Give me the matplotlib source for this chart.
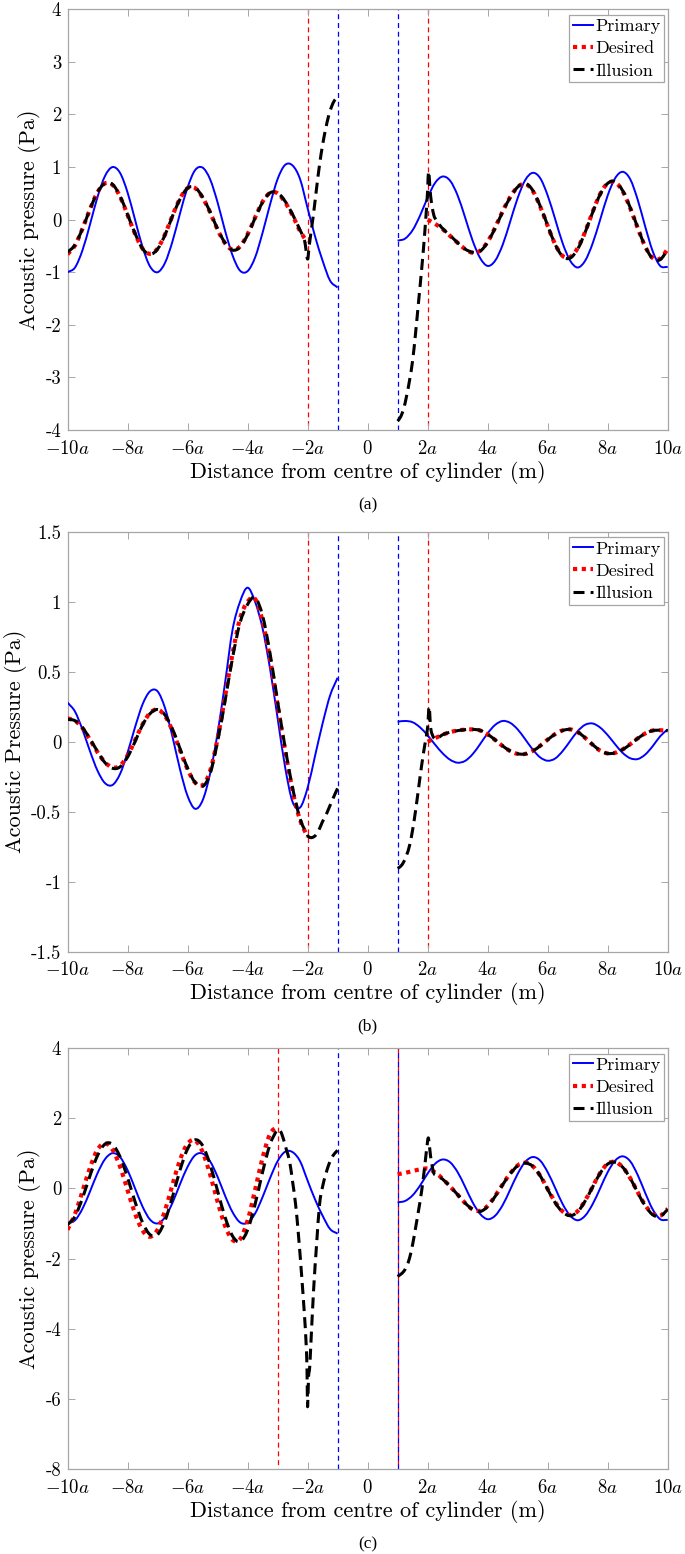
import numpy as np
import matplotlib
matplotlib.use("Agg")
import matplotlib.pyplot as plt
from matplotlib.path import Path
from matplotlib.patches import PathPatch
from matplotlib.lines import Line2D

plt.rcParams['font.family'] = ['cmr10', 'DejaVu Serif']
plt.rcParams['mathtext.fontset'] = 'cm'
plt.rcParams['axes.unicode_minus'] = False
plt.rcParams['axes.formatter.use_mathtext'] = True

# ---------------- sampling grids (x in units of a) ----------------
x_l_full = np.linspace(-10, -1, 37)
x_r_full = np.linspace(1, 10, 37)
x_l_to_m2 = np.linspace(-10, -2, 33)
x_r_from2 = np.linspace(2, 10, 33)
x_l_to_m225 = np.linspace(-10, -2.25, 32)
x_l_to_m3 = np.linspace(-10, -3, 29)
x_r_from25 = np.linspace(2.5, 10, 31)
x_r_from275 = np.linspace(2.75, 10, 30)

# ---------------- primary field (panels a and c) ----------------
primary_ac_left = [-1.0, -0.91, -0.58, -0.09, 0.43, 0.83, 1.0, 0.89, 0.52, 0.0, -0.52, -0.89, -1.0,
                   -0.82, -0.41, 0.12, 0.61, 0.94, 0.99, 0.77, 0.33, -0.21, -0.68, -0.97, -0.98, -0.72,
                   -0.25, 0.29, 0.77, 1.04, 1.03, 0.77, 0.22, -0.32, -0.78, -1.16, -1.29]
primary_ac_right = [-0.40, -0.36, -0.20, 0.08, 0.42, 0.70, 0.82, 0.74, 0.46, 0.04, -0.40, -0.73, -0.88,
                    -0.78, -0.48, -0.04, 0.41, 0.75, 0.89, 0.79, 0.46, 0.01, -0.45, -0.78, -0.91, -0.78,
                    -0.45, 0.0, 0.46, 0.79, 0.91, 0.77, 0.38, -0.13, -0.60, -0.88, -0.90]

# ---------------- panel (a) ----------------
desired_a_left = [-0.66, -0.49, -0.17, 0.20, 0.52, 0.69, 0.66, 0.44, 0.09, -0.27, -0.55, -0.65, -0.55,
                  -0.28, 0.08, 0.40, 0.60, 0.60, 0.42, 0.14, -0.19, -0.45, -0.57, -0.51, -0.28, 0.04,
                  0.34, 0.51, 0.50, 0.33, 0.08, -0.22, -0.43]
desired_a_right = [0.0, -0.08, -0.18, -0.31, -0.44, -0.56, -0.63, -0.59, -0.42, -0.15, 0.16, 0.43, 0.62,
                   0.68, 0.55, 0.25, -0.12, -0.47, -0.69, -0.71, -0.54, -0.23, 0.15, 0.49, 0.69, 0.71,
                   0.54, 0.22, -0.16, -0.51, -0.73, -0.74, -0.56]
illusion_a_left = [-0.62, -0.48, -0.17, 0.20, 0.52, 0.69, 0.67, 0.45, 0.10, -0.26, -0.55, -0.66, -0.56,
                   -0.29, 0.07, 0.39, 0.60, 0.61, 0.43, 0.15, -0.18, -0.44, -0.58, -0.52, -0.29, 0.03,
                   0.33, 0.51, 0.51, 0.35, 0.10, -0.20]
illusion_a_tail_x = [-2.1, -2.0, -1.95, -1.9, -1.8, -1.7, -1.6, -1.5, -1.4, -1.3, -1.2, -1.1, -1.0]
illusion_a_tail_y = [-0.40, -0.75, -0.52, -0.30, 0.12, 0.60, 1.05, 1.42, 1.72, 1.97, 2.15, 2.27, 2.33]
illusion_a_head_x = [1.0, 1.1, 1.2, 1.3, 1.4, 1.5, 1.6, 1.7, 1.8, 1.9, 2.0, 2.03, 2.1, 2.2, 2.3]
illusion_a_head_y = [-3.83, -3.75, -3.6, -3.35, -3.05, -2.68, -2.15, -1.55, -0.95, -0.28, 0.55, 0.92,
                     0.45, 0.10, -0.02]
illusion_a_right = [-0.17, -0.30, -0.44, -0.56, -0.62, -0.60, -0.43, -0.16, 0.15, 0.42, 0.62, 0.69, 0.56,
                    0.26, -0.11, -0.47, -0.70, -0.73, -0.56, -0.24, 0.14, 0.48, 0.69, 0.72, 0.55, 0.23,
                    -0.15, -0.51, -0.74, -0.76, -0.57]

# ---------------- panel (b) ----------------
primary_b_left = [0.28, 0.215, 0.086, -0.068, -0.207, -0.296, -0.309, -0.231, -0.079, 0.103, 0.266, 0.36,
                  0.36, 0.24, 0.034, -0.198, -0.387, -0.479, -0.42, -0.23, 0.06, 0.42, 0.80, 1.0, 1.10,
                  1.0, 0.81, 0.52, 0.17, -0.18, -0.43, -0.47, -0.33, -0.10, 0.13, 0.33, 0.457]
primary_b_right = [0.143, 0.148, 0.139, 0.102, 0.045, -0.021, -0.083, -0.129, -0.15, -0.137, -0.089,
                   -0.017, 0.06, 0.12, 0.148, 0.135, 0.088, 0.018, -0.055, -0.112, -0.136, -0.12, -0.067,
                   0.005, 0.075, 0.121, 0.13, 0.101, 0.047, -0.019, -0.08, -0.118, -0.124, -0.092, -0.032,
                   0.039, 0.088]
desired_b_left = [0.167, 0.15, 0.097, 0.014, -0.075, -0.147, -0.184, -0.171, -0.099, 0.010, 0.123, 0.205,
                  0.23, 0.184, 0.077, -0.062, -0.197, -0.291, -0.31, -0.21, 0.02, 0.32, 0.63, 0.88, 1.0,
                  1.02, 0.86, 0.59, 0.26, -0.06, -0.35, -0.56, -0.68]
desired_b_right = [0.0, 0.025, 0.05, 0.068, 0.08, 0.086, 0.088, 0.08, 0.052, 0.012, -0.031, -0.067, -0.087,
                   -0.087, -0.066, -0.029, 0.015, 0.055, 0.081, 0.088, 0.068, 0.027, -0.022, -0.064, -0.084,
                   -0.079, -0.055, -0.018, 0.024, 0.059, 0.080, 0.082, 0.077]
illusion_b_left = [0.16, 0.15, 0.10, 0.02, -0.07, -0.15, -0.19, -0.18, -0.11, 0.0, 0.12, 0.20, 0.23, 0.19,
                   0.09, -0.05, -0.19, -0.29, -0.32, -0.23, 0.0, 0.29, 0.60, 0.85, 0.98, 1.03, 0.90, 0.63,
                   0.29, -0.04, -0.33, -0.55]
illusion_b_tail_x = [-2.0, -1.9, -1.8, -1.7, -1.6, -1.5, -1.4, -1.3, -1.2, -1.1, -1.0]
illusion_b_tail_y = [-0.67, -0.685, -0.68, -0.66, -0.62, -0.57, -0.53, -0.48, -0.43, -0.38, -0.333]
illusion_b_head_x = [1.0, 1.1, 1.2, 1.3, 1.4, 1.5, 1.6, 1.7, 1.8, 1.9, 2.0, 2.05, 2.1, 2.2, 2.3, 2.5]
illusion_b_head_y = [-0.905, -0.89, -0.86, -0.81, -0.74, -0.63, -0.49, -0.33, -0.17, -0.03, 0.10, 0.25,
                     0.10, 0.03, 0.02, 0.05]
illusion_b_right = [0.068, 0.079, 0.086, 0.088, 0.081, 0.053, 0.013, -0.030, -0.066, -0.086, -0.088,
                    -0.067, -0.030, 0.014, 0.054, 0.080, 0.088, 0.069, 0.028, -0.021, -0.063, -0.084,
                    -0.080, -0.056, -0.019, 0.023, 0.058, 0.079, 0.082, 0.078]

# ---------------- panel (c) ----------------
desired_c_left = [-1.18, -0.73, -0.08, 0.59, 1.10, 1.28, 1.10, 0.62, -0.05, -0.72, -1.20, -1.38, -1.18,
                  -0.63, 0.11, 0.81, 1.27, 1.36, 1.04, 0.40, -0.38, -1.07, -1.47, -1.45, -0.92, -0.05,
                  0.87, 1.55, 1.76]
desired_c_right = [0.40, 0.44, 0.49, 0.54, 0.56, 0.45, 0.27, 0.05, -0.18, -0.42, -0.60, -0.64, -0.50,
                   -0.22, 0.11, 0.42, 0.65, 0.73, 0.63, 0.36, -0.02, -0.39, -0.66, -0.76, -0.65, -0.35,
                   0.05, 0.44, 0.70, 0.75, 0.60, 0.29, -0.11, -0.48, -0.73, -0.78, -0.58]
illusion_c_left = [-1.04, -0.80, -0.28, 0.36, 0.93, 1.26, 1.25, 0.90, 0.31, -0.38, -0.97, -1.32, -1.32,
                   -0.92, -0.24, 0.52, 1.12, 1.38, 1.22, 0.68, -0.07, -0.82, -1.36, -1.52, -1.19, -0.46,
                   0.46, 1.25, 1.67]
illusion_c_tail_x = [-2.9, -2.8, -2.7, -2.6, -2.5, -2.4, -2.3, -2.2, -2.1, -2.05, -2.02, -2.0, -1.97,
                     -1.93, -1.9, -1.8, -1.7, -1.6, -1.5, -1.4, -1.3, -1.2, -1.1, -1.0]
illusion_c_tail_y = [1.62, 1.39, 1.08, 0.77, 0.19, -0.45, -1.37, -2.46, -3.66, -4.4, -5.1, -6.22, -5.4,
                     -5.1, -4.6, -2.9, -1.6, -0.45, 0.05, 0.38, 0.66, 0.86, 0.99, 1.08]
illusion_c_head_x = [1.0, 1.1, 1.2, 1.3, 1.4, 1.5, 1.6, 1.7, 1.8, 1.9, 2.0, 2.03, 2.1, 2.2, 2.3, 2.5]
illusion_c_head_y = [-2.51, -2.45, -2.37, -2.22, -1.98, -1.6, -1.12, -0.62, -0.08, 0.60, 1.35, 1.42,
                     0.90, 0.45, 0.36, 0.26]
illusion_c_right = [0.05, -0.18, -0.42, -0.60, -0.66, -0.52, -0.23, 0.10, 0.41, 0.64, 0.72, 0.63, 0.36,
                    -0.03, -0.41, -0.68, -0.78, -0.67, -0.36, 0.04, 0.43, 0.69, 0.74, 0.60, 0.29, -0.12,
                    -0.50, -0.75, -0.80, -0.60]

# boundaries (vertical dashed lines)
red_lines = {'a': [-2, 2], 'b': [-2, 2], 'c': [-3, 1]}
blue_lines = {'a': [-1, 1], 'b': [-1, 1], 'c': [-1, 1]}

x_ticks = [-10, -8, -6, -4, -2, 0, 2, 4, 6, 8, 10]
x_ticklabels = [r'$-10a$', r'$-8a$', r'$-6a$', r'$-4a$', r'$-2a$', r'$0$',
                r'$2a$', r'$4a$', r'$6a$', r'$8a$', r'$10a$']
y_ticks = {'a': [-4, -3, -2, -1, 0, 1, 2, 3, 4],
           'b': [-1.5, -1, -0.5, 0, 0.5, 1, 1.5],
           'c': [-8, -6, -4, -2, 0, 2, 4]}
y_ticklabels = {'a': ['-4', '-3', '-2', '-1', '0', '1', '2', '3', '4'],
                'b': ['-1.5', '-1', '-0.5', '0', '0.5', '1', '1.5'],
                'c': ['-8', '-6', '-4', '-2', '0', '2', '4']}
y_labels = {'a': 'Acoustic pressure (Pa)', 'b': 'Acoustic Pressure (Pa)', 'c': 'Acoustic pressure (Pa)'}
legend_labels = ['Primary', 'Desired', 'Illusion']


def smooth_curve(ax, xs, ys, **kw):
    """Draw a smooth (cubic Hermite / Bezier) curve through the read points."""
    x = np.asarray(xs, float)
    y = np.asarray(ys, float)
    n = len(x)
    m = np.empty(n)
    m[1:-1] = (y[2:] - y[:-2]) / (x[2:] - x[:-2])
    m[0] = (y[1] - y[0]) / (x[1] - x[0])
    m[-1] = (y[-1] - y[-2]) / (x[-1] - x[-2])
    verts = [(x[0], y[0])]
    codes = [Path.MOVETO]
    for i in range(n - 1):
        dx = x[i + 1] - x[i]
        verts += [(x[i] + dx / 3, y[i] + m[i] * dx / 3),
                  (x[i + 1] - dx / 3, y[i + 1] - m[i + 1] * dx / 3),
                  (x[i + 1], y[i + 1])]
        codes += [Path.CURVE4] * 3
    patch = PathPatch(Path(verts, codes), fill=False, joinstyle='round', **kw)
    ax.add_patch(patch)
    return patch


W, H = 685, 1554
fig = plt.figure(figsize=(W / 100, H / 100), dpi=100)

ax_left = 67.5 / W
ax_w = 600.2 / W
panels = {
    'a': (9.3, 430.0),
    'b': (531.7, 951.7),
    'c': (1047.8, 1469.3),
}

GREY = '#a6a6a6'
BLUE = '#0000ff'
RED = '#ff0000'
STY_P = dict(edgecolor=BLUE, lw=1.4, linestyle='-')
STY_D = dict(edgecolor=RED, lw=3.0, linestyle=(0, (1.0, 1.1)))
STY_I = dict(edgecolor='black', lw=2.2, linestyle=(0, (3.6, 2.0)))

series = {
    'a': dict(
        prim=[(x_l_full, primary_ac_left), (x_r_full, primary_ac_right)],
        des=[(x_l_to_m2, desired_a_left), (x_r_from2, desired_a_right)],
        ill=[(np.concatenate([x_l_to_m225, illusion_a_tail_x]), illusion_a_left + illusion_a_tail_y),
             (np.concatenate([illusion_a_head_x, x_r_from25]), illusion_a_head_y + illusion_a_right)],
    ),
    'b': dict(
        prim=[(x_l_full, primary_b_left), (x_r_full, primary_b_right)],
        des=[(x_l_to_m2, desired_b_left), (x_r_from2, desired_b_right)],
        ill=[(np.concatenate([x_l_to_m225, illusion_b_tail_x]), illusion_b_left + illusion_b_tail_y),
             (np.concatenate([illusion_b_head_x, x_r_from275]), illusion_b_head_y + illusion_b_right)],
    ),
    'c': dict(
        prim=[(x_l_full, primary_ac_left), (x_r_full, primary_ac_right)],
        des=[(x_l_to_m3, desired_c_left), (x_r_full, desired_c_right)],
        ill=[(np.concatenate([x_l_to_m3, illusion_c_tail_x]), illusion_c_left + illusion_c_tail_y),
             (np.concatenate([illusion_c_head_x, x_r_from275]), illusion_c_head_y + illusion_c_right)],
    ),
}

for key in ['a', 'b', 'c']:
    top, bot = panels[key]
    ax = fig.add_axes([ax_left, 1 - bot / H, ax_w, (bot - top) / H])
    yt = y_ticks[key]
    ax.set_xlim(-10, 10)
    ax.set_ylim(yt[0], yt[-1])

    for xv in red_lines[key]:
        ax.axvline(xv, color=RED, lw=0.9, linestyle=(3.5, (4, 3)), zorder=1)
    for xv in blue_lines[key]:
        ax.axvline(xv, color=BLUE, lw=0.9, linestyle=(0, (4, 3)), zorder=1.1)

    for xs, ys in series[key]['prim']:
        smooth_curve(ax, xs, ys, zorder=3, **STY_P)
    for xs, ys in series[key]['des']:
        smooth_curve(ax, xs, ys, zorder=4, **STY_D)
    for xs, ys in series[key]['ill']:
        smooth_curve(ax, xs, ys, zorder=5, **STY_I)

    ax.set_xticks(x_ticks)
    ax.set_xticklabels(x_ticklabels, fontsize=13.5)
    ax.set_yticks(yt)
    ax.set_yticklabels(y_ticklabels[key], fontsize=13.5)
    ax.tick_params(direction='in', length=5, width=0.7, color=GREY, top=True, right=True)
    ax.tick_params(axis='x', pad=7)
    ax.tick_params(axis='y', pad=4.5)
    for sp in ax.spines.values():
        sp.set_color(GREY)
        sp.set_linewidth(0.9)
    ax.set_xlabel('Distance from centre of cylinder (m)', fontsize=16, labelpad=2)
    ax.set_ylabel(y_labels[key], fontsize=16, labelpad=3)

    handles = [Line2D([], [], color=BLUE, lw=1.4),
               Line2D([], [], color=RED, lw=3.0, linestyle=(0, (1.0, 1.1))),
               Line2D([], [], color='black', lw=2.2, linestyle=(0, (3.6, 2.0)))]
    leg = ax.legend(handles, legend_labels, loc='upper right',
                    bbox_to_anchor=(1 - 3.7 / 600.2, 1 - 5.7 / (bot - top)), borderaxespad=0,
                    fontsize=13, handlelength=1.15, handletextpad=0.1, borderpad=0.2,
                    labelspacing=0.36, fancybox=False, framealpha=1, edgecolor=GREY)
    leg.get_frame().set_linewidth(0.9)

    fig.text((67.5 + 300.1) / W, 1 - (bot + 75) / H, '(%s)' % key, ha='center', va='center',
             fontsize=12.5, family=['Liberation Serif'])

fig.savefig('out.png', dpi=100)
